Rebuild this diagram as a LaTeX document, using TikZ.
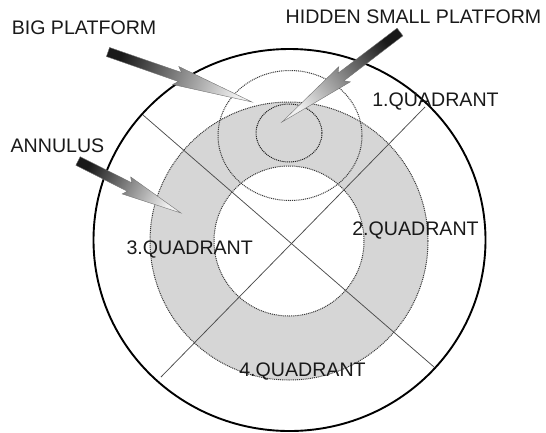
\documentclass[tikz,border=0pt]{standalone}
\usepackage{fontspec}
\setmainfont{Liberation Sans}
\usetikzlibrary{calc,positioning}

\begin{document}
\begin{tikzpicture}[
			x=1pt, y=-1pt,
			tag/.style={
				inner sep=0pt,
				text=black!90,
				font=\fontsize{19.6}{22}\selectfont
			},
			rim/.style={draw=black, line width=1.9pt},
			ring/.style={draw=black!78, line width=1pt, dash pattern=on 1pt off 0.9pt},
			split/.style={draw=black!70, line width=0.75pt},
			fat/.style={draw=black!55, line width=0.4pt, left color=black!90, right color=black!6}
			]
			\useasboundingbox (0,0) rectangle (546,432);
			
			% pool and platforms
			\coordinate (pool) at (289.5,240);
			\coordinate (mid) at (289,241);
			\coordinate (big) at (290,135.5);
			\coordinate (small) at (289,133);
			
			\draw[rim] (pool) circle [x radius=196pt, y radius=191pt];
			\filldraw[ring, fill=black!16] (mid) circle [radius=139pt];
			\filldraw[ring, fill=white] (mid) circle [radius=75pt];
			\draw[ring] (big) circle [x radius=72pt, y radius=65pt];
			\draw[ring, draw=black!88] (small) circle [x radius=33pt, y radius=29pt];
			
			% quadrant borders
			\coordinate (nw) at (143,115);
			\coordinate (se) at (434,367);
			\coordinate (ne) at (425,107);
			\coordinate (sw) at (161,377);
			\draw[split] (nw) -- (se);
			\draw[split] (ne) -- (sw);
			
			\node[tag] (q1) at (435.5,101.7) {1.QUADRANT};
			\node[tag] (q2) at (415.5,230.5) {2.QUADRANT};
			\node[tag] (q3) at (189.7,250) {3.QUADRANT};
			\node[tag] (q4) at (302.5,371.5) {4.QUADRANT};
			
			\node[tag] (bigtxt) at (84,28) {BIG PLATFORM};
			\node[tag] (hidtxt) at (413.5,17) {HIDDEN SMALL PLATFORM};
			\node[tag] (anntxt) at (57.5,146) {ANNULUS};
			
			% pointers
			\coordinate (bigTail) at (108,52);
			\coordinate (bigTip) at (252,102);
			\coordinate (hidTail) at (400,32);
			\coordinate (hidTip) at (282,122);
			\coordinate (annTail) at (78,161);
			\coordinate (annTip) at (181,213);
			
			\foreach \t/\p/\a in {bigTail/bigTip/70.9, hidTail/hidTip/-52.7, annTail/annTip/63.2}{
				\shade[fat, shading angle=\a]
					($(\t)!4.8pt!90:(\p)$) -- ($(\t)!0.5!(\p)!4.8pt!90:(\p)$)
					-- ($(\t)!0.47!(\p)!9.5pt!90:(\p)$) -- (\p)
					-- ($(\t)!0.47!(\p)!9.5pt!-90:(\p)$) -- ($(\t)!0.5!(\p)!4.8pt!-90:(\p)$)
					-- ($(\t)!4.8pt!-90:(\p)$) -- cycle;
			}
			
		\end{tikzpicture}
\end{document}
